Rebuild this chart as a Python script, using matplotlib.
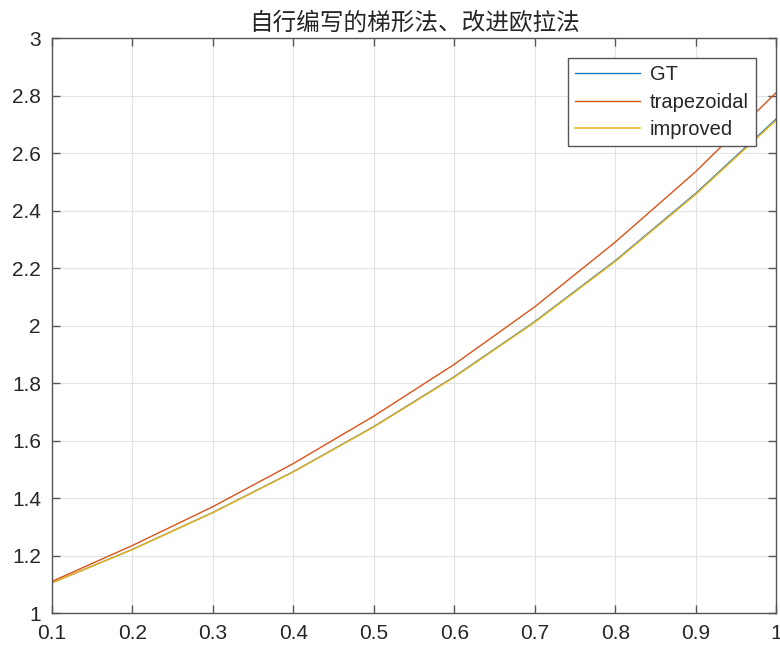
import numpy as np
import matplotlib.pyplot as plt

plt.rcParams['font.family'] = ['Liberation Sans', 'Noto Sans CJK SC', 'DejaVu Sans']

x = [0.1, 0.2, 0.3, 0.4, 0.5, 0.6, 0.7, 0.8, 0.9, 1.0]
gt = [1.1052, 1.2214, 1.3499, 1.4918, 1.6487, 1.8221, 2.0138, 2.2255, 2.4596, 2.7183]
trapezoidal = [1.110, 1.235, 1.370, 1.520, 1.685, 1.865, 2.065, 2.290, 2.535, 2.810]
improved = [1.1050, 1.2210, 1.3492, 1.4909, 1.6474, 1.8204, 2.0116, 2.2228, 2.4562, 2.7141]
xticks = [0.1, 0.2, 0.3, 0.4, 0.5, 0.6, 0.7, 0.8, 0.9, 1.0]
xticklabels = ['0.1', '0.2', '0.3', '0.4', '0.5', '0.6', '0.7', '0.8', '0.9', '1']
yticks = [1, 1.2, 1.4, 1.6, 1.8, 2, 2.2, 2.4, 2.6, 2.8, 3]
yticklabels = ['1', '1.2', '1.4', '1.6', '1.8', '2', '2.2', '2.4', '2.6', '2.8', '3']

fig = plt.figure(figsize=(7.8, 6.5), dpi=100)
ax = fig.add_axes([0.0667, 0.0569, 0.9283, 0.8846])

ax.plot(x, gt, color='#0072BD', lw=0.9, label='GT')
ax.plot(x, trapezoidal, color='#D95319', lw=1.0, label='trapezoidal')
ax.plot(x, improved, color='#EDB120', lw=1.1, label='improved')

ax.set_xlim(0.1, 1.0)
ax.set_ylim(1, 3)
ax.set_xticks(xticks)
ax.set_xticklabels(xticklabels)
ax.set_yticks(yticks)
ax.set_yticklabels(yticklabels)
ax.grid(True, color='#e3e3e3', lw=0.8)
ax.tick_params(direction='in', top=True, right=True, labelsize=15,
               colors='#262626', length=6, width=1, pad=8)
ax.tick_params(color='#555555')
for s in ax.spines.values():
    s.set_color('#555555')
    s.set_linewidth(1)

ax.set_title('自行编写的梯形法、改进欧拉法', fontsize=17, color='#262626',
             family=['Noto Sans CJK SC', 'DejaVu Sans'], pad=6)

leg = ax.legend(loc='upper right', fontsize=14.5, fancybox=False, framealpha=1,
                edgecolor='#555555', handlelength=3.2, borderaxespad=1.0,
                labelspacing=0.42, borderpad=0.35, handletextpad=0.5)
leg.get_frame().set_linewidth(1)
for t in leg.get_texts():
    t.set_color('#262626')

fig.savefig('out.png', dpi=100)
